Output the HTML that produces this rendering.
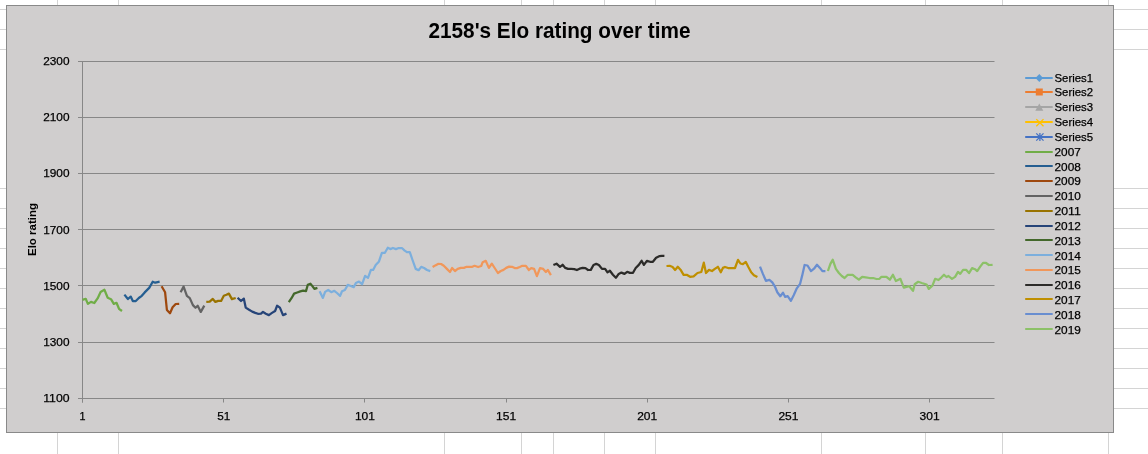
<!DOCTYPE html><html><head><meta charset="utf-8"><title>2158's Elo rating over time</title>
<style>html,body{margin:0;padding:0;background:#fff;overflow:hidden}svg{display:block}text{font-family:'Liberation Sans', Arial, sans-serif}.t{stroke:#000;stroke-width:0.25px}</style></head><body>
<svg width="1148" height="454" viewBox="0 0 1148 454">
<rect width="1148" height="454" fill="#fff"/>
<path d="M0 9.5H1148M0 29.5H1148M0 49.5H1148M0 188.5H1148M0 208.5H1148M0 228.5H1148M0 248.5H1148M0 268.5H1148M0 288.5H1148M0 308.5H1148M0 328.5H1148M0 348.5H1148M0 368.5H1148M0 388.5H1148M0 408.5H1148M57.5 0V454M118.5 0V454M444.5 0V454M521.5 0V454M553.5 0V454M604.5 0V454M655.5 0V454M821.5 0V454M925.5 0V454M1002.5 0V454M1108.5 0V454" stroke="#D4D4D4" stroke-width="1" fill="none"/>
<rect x="6.5" y="5.5" width="1107" height="427" fill="#D0CECE" stroke="#898989" stroke-width="1"/>
<text x="559.5" y="38" text-anchor="middle" font-size="22" font-weight="bold" fill="#000" textLength="262" lengthAdjust="spacingAndGlyphs">2158's Elo rating over time</text>
<path d="M82 61.5H994.5M82 117.5H994.5M82 173.5H994.5M82 229.5H994.5M82 285.5H994.5M82 342.5H994.5" stroke="#878787" stroke-width="1" fill="none"/>
<path d="M82.5 61V402.5M78 398.5H994.5M78 61.5H82M78 117.5H82M78 173.5H82M78 229.5H82M78 285.5H82M78 342.5H82M82.5 398V402.5M223.5 398V402.5M364.5 398V402.5M506.5 398V402.5M647.5 398V402.5M788.5 398V402.5M929.5 398V402.5" stroke="#878787" stroke-width="1" fill="none"/>
<text x="69.5" y="65.0" text-anchor="end" font-size="11.6" fill="#000" class="t" textLength="26.3" lengthAdjust="spacingAndGlyphs">2300</text>
<text x="69.5" y="121.2" text-anchor="end" font-size="11.6" fill="#000" class="t" textLength="26.3" lengthAdjust="spacingAndGlyphs">2100</text>
<text x="69.5" y="177.3" text-anchor="end" font-size="11.6" fill="#000" class="t" textLength="26.3" lengthAdjust="spacingAndGlyphs">1900</text>
<text x="69.5" y="233.5" text-anchor="end" font-size="11.6" fill="#000" class="t" textLength="26.3" lengthAdjust="spacingAndGlyphs">1700</text>
<text x="69.5" y="289.7" text-anchor="end" font-size="11.6" fill="#000" class="t" textLength="26.3" lengthAdjust="spacingAndGlyphs">1500</text>
<text x="69.5" y="345.8" text-anchor="end" font-size="11.6" fill="#000" class="t" textLength="26.3" lengthAdjust="spacingAndGlyphs">1300</text>
<text x="69.5" y="402.0" text-anchor="end" font-size="11.6" fill="#000" class="t" textLength="26.3" lengthAdjust="spacingAndGlyphs">1100</text>
<text x="82.5" y="420" text-anchor="middle" font-size="11.6" fill="#000" class="t" textLength="6.0" lengthAdjust="spacingAndGlyphs">1</text>
<text x="223.7" y="420" text-anchor="middle" font-size="11.6" fill="#000" class="t" textLength="13.0" lengthAdjust="spacingAndGlyphs">51</text>
<text x="364.9" y="420" text-anchor="middle" font-size="11.6" fill="#000" class="t" textLength="20.0" lengthAdjust="spacingAndGlyphs">101</text>
<text x="506.1" y="420" text-anchor="middle" font-size="11.6" fill="#000" class="t" textLength="20.0" lengthAdjust="spacingAndGlyphs">151</text>
<text x="647.2" y="420" text-anchor="middle" font-size="11.6" fill="#000" class="t" textLength="20.0" lengthAdjust="spacingAndGlyphs">201</text>
<text x="788.4" y="420" text-anchor="middle" font-size="11.6" fill="#000" class="t" textLength="20.0" lengthAdjust="spacingAndGlyphs">251</text>
<text x="929.6" y="420" text-anchor="middle" font-size="11.6" fill="#000" class="t" textLength="20.0" lengthAdjust="spacingAndGlyphs">301</text>
<text transform="translate(36.3 229.5) rotate(-90)" text-anchor="middle" font-size="11.5" font-weight="bold" fill="#000">Elo rating</text>
<polyline points="82.4,299.9 85.7,298.8 87.9,303.9 91.0,301.9 94.3,303.0 97.6,298.4 100.6,292.0 104.4,289.8 107.7,297.7 111.0,299.2 113.8,303.9 116.5,302.8 119.0,308.8 122.0,311.0" fill="none" stroke="#70AD47" stroke-width="2.25" stroke-linejoin="round" stroke-linecap="butt"/>
<polyline points="124.4,294.6 127.9,299.0 130.7,296.6 132.8,301.0 135.8,301.0 138.8,298.0 141.8,295.8 144.7,292.4 149.2,287.9 152.7,281.7 155.2,282.7 157.6,282.1 159.6,281.7" fill="none" stroke="#255E91" stroke-width="2.25" stroke-linejoin="round" stroke-linecap="butt"/>
<polyline points="161.6,286.3 165.1,292.3 166.9,310.0 170.0,313.3 172.6,307.3 175.7,304.0 179.2,303.8" fill="none" stroke="#9E480E" stroke-width="2.25" stroke-linejoin="round" stroke-linecap="butt"/>
<polyline points="180.6,292.2 183.6,286.6 186.9,295.9 189.8,298.1 192.9,305.1 195.5,307.8 197.7,305.7 200.8,311.9 204.3,305.6" fill="none" stroke="#636363" stroke-width="2.25" stroke-linejoin="round" stroke-linecap="butt"/>
<polyline points="206.3,301.9 209.7,301.7 212.8,298.9 215.4,301.9 218.1,300.9 221.1,300.9 223.8,295.7 226.4,294.7 228.9,293.6 231.9,299.1 235.7,298.0" fill="none" stroke="#997300" stroke-width="2.25" stroke-linejoin="round" stroke-linecap="butt"/>
<polyline points="237.6,297.8 241.0,301.0 243.8,298.6 245.7,307.6 249.1,309.8 252.2,311.6 255.3,312.9 257.9,313.8 261.0,313.6 263.0,311.9 265.8,313.8 268.9,315.1 272.0,312.9 275.1,311.0 277.1,305.7 279.9,307.6 283.0,315.1 286.5,313.6" fill="none" stroke="#264478" stroke-width="2.25" stroke-linejoin="round" stroke-linecap="butt"/>
<polyline points="288.8,302.2 291.5,298.2 294.1,293.6 297.2,292.5 300.3,291.4 303.1,290.7 306.0,291.1 307.8,284.8 310.4,283.7 312.2,285.9 314.4,288.9 317.4,287.9" fill="none" stroke="#43682B" stroke-width="2.25" stroke-linejoin="round" stroke-linecap="butt"/>
<polyline points="319.6,291.3 322.9,297.9 325.1,291.9 328.2,290.0 331.3,292.2 334.3,290.8 337.0,293.0 340.1,295.9 342.0,291.3 344.9,290.0 347.8,284.9 350.8,286.0 353.7,287.1 355.9,283.1 359.0,281.6 362.1,284.2 365.1,275.9 368.0,277.9 370.9,269.9 373.1,269.9 375.7,264.9 379.0,261.4 381.9,252.8 384.9,252.8 387.8,247.7 390.4,249.1 392.9,248.0 395.9,249.1 398.8,248.0 401.9,248.0 404.7,250.6 406.9,252.1 409.8,252.1 412.7,260.5 415.7,268.9 418.6,270.2 421.2,266.9 424.1,268.0 427.0,270.0 430.3,271.1" fill="none" stroke="#7CAFDD" stroke-width="2.25" stroke-linejoin="round" stroke-linecap="butt"/>
<polyline points="432.6,267.0 435.3,265.4 438.0,263.9 441.1,264.0 443.8,265.8 446.9,268.9 450.0,272.0 452.1,267.9 455.0,271.0 457.7,268.9 460.8,267.9 463.9,267.9 466.6,266.8 469.6,266.8 472.3,266.8 474.6,265.8 478.1,267.0 481.2,266.0 482.7,262.2 485.7,260.8 488.9,267.9 491.8,263.7 495.0,268.5 497.9,273.0 500.8,271.0 503.5,269.9 506.2,267.9 509.1,266.6 512.0,266.8 514.7,268.1 517.0,268.1 519.7,267.0 522.4,265.8 525.9,265.8 528.9,270.0 531.2,268.1 534.1,268.9 536.9,276.1 540.0,268.1 543.2,268.9 545.9,272.0 547.8,269.9 550.9,275.1" fill="none" stroke="#F1975A" stroke-width="2.25" stroke-linejoin="round" stroke-linecap="butt"/>
<polyline points="553.4,265.0 556.5,263.7 560.0,266.8 562.6,264.8 565.3,267.9 568.0,268.9 571.1,268.9 574.2,269.1 576.9,270.0 579.6,268.7 582.7,267.9 585.4,268.1 588.1,270.0 590.8,269.9 593.5,265.0 596.2,263.9 598.9,265.0 602.0,268.9 605.1,268.9 607.5,272.4 609.9,270.8 612.9,274.7 615.9,277.8 618.7,273.9 621.4,272.6 624.5,273.9 627.2,271.8 629.9,272.9 633.0,272.8 635.7,268.0 638.8,264.9 641.6,260.8 643.9,264.9 646.9,260.8 650.0,261.8 652.9,261.8 656.1,257.7 659.2,256.2 661.9,255.8 664.4,255.9" fill="none" stroke="#2C2B29" stroke-width="2.25" stroke-linejoin="round" stroke-linecap="butt"/>
<polyline points="666.5,266.0 669.7,265.8 672.6,267.0 675.1,270.0 677.8,266.8 680.5,269.7 683.6,274.8 686.7,274.8 690.1,276.8 693.6,276.4 697.5,273.0 701.3,272.0 703.8,262.7 706.0,273.0 709.0,269.9 712.0,271.0 715.2,268.7 717.9,266.8 720.8,272.2 722.9,267.9 725.0,267.0 728.1,268.0 731.6,268.0 735.0,268.0 738.0,259.8 740.4,263.5 742.9,264.1 745.8,261.9 748.5,267.3 751.2,272.3 753.9,275.2 757.4,277.0" fill="none" stroke="#BF8F00" stroke-width="2.25" stroke-linejoin="round" stroke-linecap="butt"/>
<polyline points="760.0,266.7 762.9,273.9 765.9,280.8 769.4,279.8 772.3,282.3 774.8,286.3 777.3,292.2 780.3,296.2 783.0,292.7 785.2,296.9 787.7,296.2 790.9,300.8 793.7,295.2 796.6,288.7 800.1,283.8 802.1,275.9 804.6,265.0 807.5,265.5 811.0,271.1 814.0,268.7 817.0,264.8 819.9,267.9 822.4,271.1 825.4,271.1" fill="none" stroke="#698ED0" stroke-width="2.25" stroke-linejoin="round" stroke-linecap="butt"/>
<polyline points="827.9,271.0 830.4,263.9 832.7,259.7 835.9,268.8 838.9,273.0 841.8,276.0 844.6,278.0 847.8,274.8 852.7,274.8 855.7,277.3 858.9,279.7 862.2,276.8 865.6,277.3 869.6,278.0 873.1,278.0 876.5,279.0 879.5,278.8 881.5,276.8 886.4,276.8 889.9,279.7 892.9,274.8 895.9,281.0 900.4,278.8 903.8,287.7 909.3,286.2 913.0,290.9 914.7,284.2 918.2,281.8 921.7,283.0 926.6,284.5 928.8,288.9 932.4,285.7 935.1,278.8 938.5,280.0 941.5,277.3 944.0,274.8 946.5,277.0 948.5,276.0 952.0,278.9 955.1,276.9 958.0,271.9 960.2,273.8 963.1,269.8 966.1,269.8 969.0,273.1 972.1,268.1 975.0,269.2 977.2,271.1 980.2,266.7 983.1,262.8 985.7,262.8 988.9,265.0 992.6,264.8" fill="none" stroke="#8CC168" stroke-width="2.25" stroke-linejoin="round" stroke-linecap="butt"/>
<line x1="1025.2" y1="78.00" x2="1052.7" y2="78.00" stroke="#5B9BD5" stroke-width="2"/>
<path d="M1039.3 74.0l3.8 4l-3.8 4l-3.8 -4z" fill="#5B9BD5"/>
<text x="1054.5" y="81.60" font-size="11.6" fill="#000" class="t" textLength="38.5" lengthAdjust="spacingAndGlyphs">Series1</text>
<line x1="1025.2" y1="92.00" x2="1052.7" y2="92.00" stroke="#ED7D31" stroke-width="2"/>
<rect x="1035.8" y="88.5" width="7" height="7" fill="#ED7D31"/>
<text x="1054.5" y="96.43" font-size="11.6" fill="#000" class="t" textLength="38.5" lengthAdjust="spacingAndGlyphs">Series2</text>
<line x1="1025.2" y1="107.00" x2="1052.7" y2="107.00" stroke="#A5A5A5" stroke-width="2"/>
<path d="M1039.3 103.6l4 7.2h-8z" fill="#A5A5A5"/>
<text x="1054.5" y="111.26" font-size="11.6" fill="#000" class="t" textLength="38.5" lengthAdjust="spacingAndGlyphs">Series3</text>
<line x1="1025.2" y1="122.00" x2="1052.7" y2="122.00" stroke="#FFC000" stroke-width="2"/>
<path d="M1036.3 119.1l7.2 7.2M1036.3 126.3l7.2 -7.2" stroke="#FFC000" stroke-width="1.3"/>
<text x="1054.5" y="126.09" font-size="11.6" fill="#000" class="t" textLength="38.5" lengthAdjust="spacingAndGlyphs">Series4</text>
<line x1="1025.2" y1="137.00" x2="1052.7" y2="137.00" stroke="#4472C4" stroke-width="2"/>
<path d="M1036.3 133.4l7.2 7.2M1036.3 140.6l7.2 -7.2M1039.9 133.0v8" stroke="#4472C4" stroke-width="1.3"/>
<text x="1054.5" y="140.92" font-size="11.6" fill="#000" class="t" textLength="38.5" lengthAdjust="spacingAndGlyphs">Series5</text>
<line x1="1025.2" y1="152.00" x2="1052.7" y2="152.00" stroke="#70AD47" stroke-width="2"/>
<text x="1054.5" y="155.75" font-size="11.6" fill="#000" class="t" textLength="26.3" lengthAdjust="spacingAndGlyphs">2007</text>
<line x1="1025.2" y1="166.00" x2="1052.7" y2="166.00" stroke="#255E91" stroke-width="2"/>
<text x="1054.5" y="170.58" font-size="11.6" fill="#000" class="t" textLength="26.3" lengthAdjust="spacingAndGlyphs">2008</text>
<line x1="1025.2" y1="181.00" x2="1052.7" y2="181.00" stroke="#9E480E" stroke-width="2"/>
<text x="1054.5" y="185.41" font-size="11.6" fill="#000" class="t" textLength="26.3" lengthAdjust="spacingAndGlyphs">2009</text>
<line x1="1025.2" y1="196.00" x2="1052.7" y2="196.00" stroke="#636363" stroke-width="2"/>
<text x="1054.5" y="200.24" font-size="11.6" fill="#000" class="t" textLength="26.3" lengthAdjust="spacingAndGlyphs">2010</text>
<line x1="1025.2" y1="211.00" x2="1052.7" y2="211.00" stroke="#997300" stroke-width="2"/>
<text x="1054.5" y="215.07" font-size="11.6" fill="#000" class="t" textLength="26.3" lengthAdjust="spacingAndGlyphs">2011</text>
<line x1="1025.2" y1="226.00" x2="1052.7" y2="226.00" stroke="#264478" stroke-width="2"/>
<text x="1054.5" y="229.90" font-size="11.6" fill="#000" class="t" textLength="26.3" lengthAdjust="spacingAndGlyphs">2012</text>
<line x1="1025.2" y1="240.00" x2="1052.7" y2="240.00" stroke="#43682B" stroke-width="2"/>
<text x="1054.5" y="244.73" font-size="11.6" fill="#000" class="t" textLength="26.3" lengthAdjust="spacingAndGlyphs">2013</text>
<line x1="1025.2" y1="255.00" x2="1052.7" y2="255.00" stroke="#7CAFDD" stroke-width="2"/>
<text x="1054.5" y="259.56" font-size="11.6" fill="#000" class="t" textLength="26.3" lengthAdjust="spacingAndGlyphs">2014</text>
<line x1="1025.2" y1="270.00" x2="1052.7" y2="270.00" stroke="#F1975A" stroke-width="2"/>
<text x="1054.5" y="274.39" font-size="11.6" fill="#000" class="t" textLength="26.3" lengthAdjust="spacingAndGlyphs">2015</text>
<line x1="1025.2" y1="285.00" x2="1052.7" y2="285.00" stroke="#2C2B29" stroke-width="2"/>
<text x="1054.5" y="289.22" font-size="11.6" fill="#000" class="t" textLength="26.3" lengthAdjust="spacingAndGlyphs">2016</text>
<line x1="1025.2" y1="299.00" x2="1052.7" y2="299.00" stroke="#BF8F00" stroke-width="2"/>
<text x="1054.5" y="304.05" font-size="11.6" fill="#000" class="t" textLength="26.3" lengthAdjust="spacingAndGlyphs">2017</text>
<line x1="1025.2" y1="314.00" x2="1052.7" y2="314.00" stroke="#698ED0" stroke-width="2"/>
<text x="1054.5" y="318.88" font-size="11.6" fill="#000" class="t" textLength="26.3" lengthAdjust="spacingAndGlyphs">2018</text>
<line x1="1025.2" y1="329.00" x2="1052.7" y2="329.00" stroke="#8CC168" stroke-width="2"/>
<text x="1054.5" y="333.71" font-size="11.6" fill="#000" class="t" textLength="26.3" lengthAdjust="spacingAndGlyphs">2019</text>
</svg></body></html>
